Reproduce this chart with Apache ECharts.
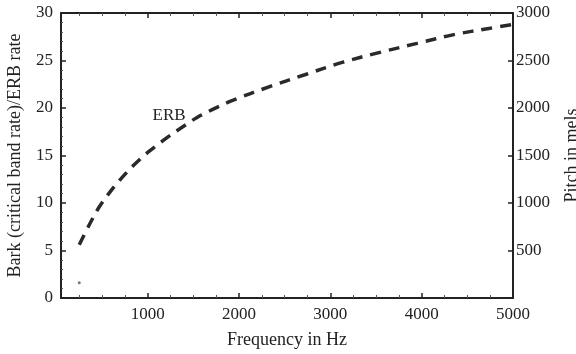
<!DOCTYPE html>
<html>
<head>
<meta charset="utf-8">
<script src="https://cdn.jsdelivr.net/npm/echarts@6/dist/echarts.min.js"></script>
<style>html,body{margin:0;padding:0;background:#fff}#c{width:576px;height:354px}</style>
</head>
<body>
<div id="c"></div>
<script>
// Data
var freqHz = [250, 370, 470, 590, 720, 860, 1010, 1200, 1380, 1540, 1700, 1930, 2320, 2720, 3130, 3520, 3950, 4340, 4750, 5000];
var erbRate = [5.6, 7.9, 9.6, 11.2, 12.7, 14.1, 15.4, 16.8, 18.0, 19.0, 19.8, 20.8, 22.2, 23.5, 24.8, 25.8, 26.8, 27.7, 28.4, 28.8];
var strayPoint = [[250, 1.6]];
var erbLabelAt = [1233, 19.2];
var xTickLabels = [1000, 2000, 3000, 4000, 5000];
var xMinorTicks = [250, 500, 750, 1250, 1500, 1750, 2250, 2500, 2750, 3250, 3500, 3750, 4250, 4500, 4750];

var font = '"Liberation Serif", "DejaVu Serif", serif';
var ink = '#222';

var chart = echarts.init(document.getElementById('c'), null, {renderer: 'canvas'});
chart.setOption({
  animation: false,
  backgroundColor: '#fff',
  grid: {left: 61, right: 63, top: 13, bottom: 56, containLabel: false, outerBoundsMode: 'none'},
  xAxis: [{
    type: 'value', min: 50, max: 5000, position: 'bottom',
    name: 'Frequency in Hz', nameLocation: 'middle', nameGap: 33,
    nameTextStyle: {fontFamily: font, fontSize: 18, color: ink},
    axisLine: {show: true, onZero: false, lineStyle: {color: ink, width: 2}},
    axisTick: {show: true, inside: true, length: 5, customValues: xTickLabels, lineStyle: {color: ink, width: 1.5}},
    axisLabel: {customValues: xTickLabels, fontFamily: font, fontSize: 17, color: ink, margin: 8,
      formatter: function (v) { return String(v); }},
    splitLine: {show: false}
  }, {
    type: 'value', min: 50, max: 5000, position: 'top',
    axisLine: {show: true, onZero: false, lineStyle: {color: ink, width: 2}},
    axisTick: {show: true, inside: true, length: 5, customValues: xTickLabels, lineStyle: {color: ink, width: 1.5}},
    axisLabel: {show: false},
    splitLine: {show: false}
  }, {
    type: 'value', min: 50, max: 5000, position: 'bottom',
    axisLine: {show: false, onZero: false},
    axisTick: {show: true, inside: true, length: 3, customValues: xMinorTicks, lineStyle: {color: '#555'}},
    axisLabel: {show: false},
    splitLine: {show: false}
  }, {
    type: 'value', min: 50, max: 5000, position: 'top',
    axisLine: {show: false, onZero: false},
    axisTick: {show: true, inside: true, length: 3, customValues: xMinorTicks, lineStyle: {color: '#555'}},
    axisLabel: {show: false},
    splitLine: {show: false}
  }],
  yAxis: [{
    type: 'value', min: 0, max: 30, interval: 5, position: 'left',
    name: 'Bark (critical band rate)/ERB rate', nameLocation: 'middle', nameGap: 37,
    nameTextStyle: {fontFamily: font, fontSize: 18, color: ink},
    axisLine: {show: true, onZero: false, lineStyle: {color: ink, width: 2}},
    axisTick: {show: true, inside: true, length: 5, lineStyle: {color: ink, width: 1.5}},
    minorTick: {show: true, splitNumber: 5, length: 2, lineStyle: {color: '#555'}},
    axisLabel: {fontFamily: font, fontSize: 17, color: ink, margin: 8},
    splitLine: {show: false}
  }, {
    type: 'value', min: 0, max: 3000, interval: 500, position: 'right',
    name: 'Pitch in mels', nameLocation: 'middle', nameGap: 50, nameRotate: 90,
    nameTextStyle: {fontFamily: font, fontSize: 18, color: ink},
    axisLine: {show: true, onZero: false, lineStyle: {color: ink, width: 2}},
    axisTick: {show: true, inside: true, length: 5, lineStyle: {color: ink, width: 1.5}},
    axisLabel: {fontFamily: font, fontSize: 17, color: ink, margin: 3,
      formatter: function (v) { return v === 0 ? '' : String(v); }},
    splitLine: {show: false}
  }],
  series: [{
    type: 'line', xAxisIndex: 0, yAxisIndex: 0,
    data: freqHz.map(function (f, i) { return [f, erbRate[i]]; }),
    smooth: 0.35, showSymbol: false,
    lineStyle: {color: '#2a2a2a', width: 3.5, type: [11, 8]},
    markPoint: {
      symbol: 'circle', symbolSize: 0,
      label: {show: true, formatter: 'ERB', fontFamily: font, fontSize: 17, color: ink, position: 'inside'},
      data: [{coord: erbLabelAt}]
    }
  }, {
    type: 'scatter', xAxisIndex: 0, yAxisIndex: 0,
    data: strayPoint, symbolSize: 3, itemStyle: {color: '#555'}
  }]
});
</script>
</body>
</html>
